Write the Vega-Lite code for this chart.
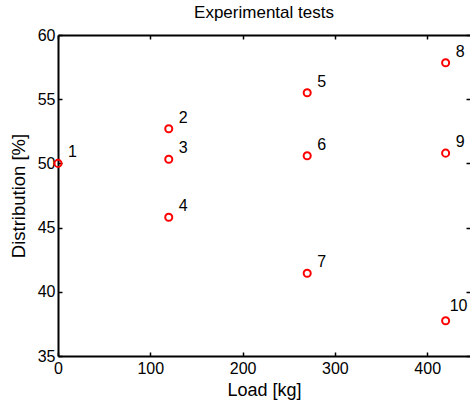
{
  "$schema": "https://vega.github.io/schema/vega-lite/v6.json",
  "autosize": "none",
  "padding": {"left": 58, "top": 35, "right": 0, "bottom": 47},
  "width": 412,
  "height": 321,
  "background": "white",
  "title": {"text": "Experimental tests", "fontSize": 17, "fontWeight": "normal", "font": "Liberation Sans", "color": "black", "offset": 5, "frame": "group"},
  "data": {"values": [
    {"load": 0, "dist": 50.0, "label": "1"},
    {"load": 120, "dist": 52.7, "label": "2"},
    {"load": 120, "dist": 50.32, "label": "3"},
    {"load": 120, "dist": 45.8, "label": "4"},
    {"load": 270, "dist": 55.5, "label": "5"},
    {"load": 270, "dist": 50.6, "label": "6"},
    {"load": 270, "dist": 41.45, "label": "7"},
    {"load": 420, "dist": 57.84, "label": "8"},
    {"load": 420, "dist": 50.8, "label": "9"},
    {"load": 420, "dist": 37.75, "label": "10"}
  ]},
  "config": {
    "view": {"stroke": null},
    "axis": {
      "domainColor": "black", "domainWidth": 2,
      "tickColor": "black", "tickWidth": 1.5, "tickSize": -4,
      "labelFont": "Liberation Sans", "labelFontSize": 16, "labelColor": "black",
      "titleFont": "Liberation Sans", "titleFontSize": 18, "titleFontWeight": "normal", "titleColor": "black",
      "grid": false, "labelFlush": false, "labelOverlap": false
    }
  },
  "resolve": {"axis": {"x": "independent", "y": "independent"}},
  "layer": [
    {
      "mark": {"type": "point", "filled": false, "color": "#ff0000", "size": 50, "strokeWidth": 2, "opacity": 1},
      "encoding": {
        "x": {"field": "load", "type": "quantitative", "scale": {"domain": [0, 446.4], "nice": false, "zero": false},
              "axis": {"orient": "bottom", "values": [0, 100, 200, 300, 400], "title": "Load [kg]", "labelPadding": 8, "titleY": 34, "titleBaseline": "middle"}},
        "y": {"field": "dist", "type": "quantitative", "scale": {"domain": [35, 60], "nice": false, "zero": false},
              "axis": {"orient": "left", "values": [35, 40, 45, 50, 55, 60], "title": "Distribution [%]", "titleFontSize": 18.5, "labelPadding": 7, "titleX": -40, "titleBaseline": "middle"}}
      }
    },
    {
      "transform": [{"filter": "datum.label != '10'"}],
      "mark": {"type": "text", "align": "left", "baseline": "middle", "dx": 10, "dy": -11, "fontSize": 16, "font": "Liberation Sans", "color": "black"},
      "encoding": {
        "x": {"field": "load", "type": "quantitative", "axis": {"orient": "top", "values": [0, 100, 200, 300, 400], "labels": false, "title": null}},
        "y": {"field": "dist", "type": "quantitative", "axis": {"orient": "right", "values": [35, 40, 45, 50, 55, 60], "labels": false, "title": null, "domain": false}},
        "text": {"field": "label"}
      }
    },
    {
      "transform": [{"filter": "datum.label == '10'"}],
      "mark": {"type": "text", "align": "left", "baseline": "middle", "dx": 4, "dy": -15, "fontSize": 16, "font": "Liberation Sans", "color": "black"},
      "encoding": {
        "x": {"field": "load", "type": "quantitative", "axis": null},
        "y": {"field": "dist", "type": "quantitative", "axis": null},
        "text": {"field": "label"}
      }
    }
  ]
}
